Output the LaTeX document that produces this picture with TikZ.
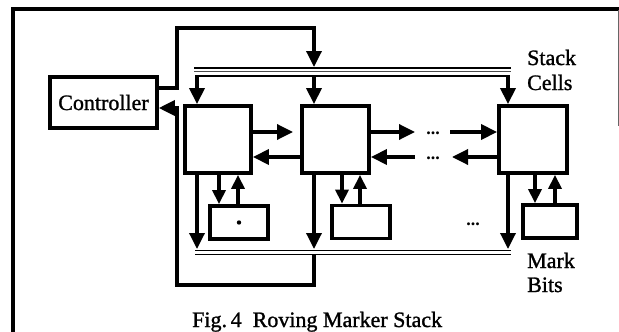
\documentclass[tikz,border=0pt]{standalone}
\usepackage{fontspec}
\setmainfont{Liberation Serif}
\newfontfamily\scanfont{Liberation Serif}[FakeBold=1.2]
\usetikzlibrary{arrows.meta}
\begin{document}
\begin{tikzpicture}[x=1pt,y=-1pt,
  wire/.style={line width=3.4pt},
  arr/.style={wire,-{Triangle[length=16pt,width=15pt]}},
  sarr/.style={wire,-{Triangle[length=14pt,width=13pt]}},
  boxn/.style={draw,line width=3.8pt,inner sep=0pt,fill=white},
  cellbox/.style={boxn,minimum width=66pt,minimum height=67pt},
  markbox/.style={boxn,minimum width=58pt,minimum height=33pt},
  lbl/.style={font=\scanfont\fontsize{22}{25}\selectfont,inner sep=0pt},
  dotsn/.style={font=\fontsize{18}{18}\selectfont\bfseries,inner sep=0pt,anchor=base}
]
\useasboundingbox (0,0) rectangle (619,332);
% frame
\draw[line width=3.4pt] (13,340) -- (13,9) -- (625,9);
\draw[line width=0.7pt,black!60] (618,10) -- (618,126);

% nodes
\node[boxn,minimum width=107pt,minimum height=51pt,lbl,draw,line width=3.6pt] (ctrl) at (103.5,102.5) {\raisebox{-2pt}{Controller}};
\node[cellbox] (c1) at (218,139.5) {};
\node[cellbox,minimum width=67pt] (c2) at (335.5,139.5) {};
\node[cellbox,minimum width=68pt] (c3) at (533,139.5) {};
\node[markbox] (m1) at (239,222.5) {};
\node[markbox] (m2) at (361,222) {};
\node[markbox,minimum width=54pt] (m3) at (550,221.5) {};
\fill (m1.center) circle (2.2pt);

% coordinates
\coordinate (xa) at (197,0);
\coordinate (xb) at (314,0);
\coordinate (xc) at (508,0);
\coordinate (tb) at (0,75);
\coordinate (bb) at (0,249);
\coordinate (bbot) at (0,254);
\coordinate (y88) at (0,88);
\coordinate (y108) at (0,108);
\coordinate (w1) at (177,28);
\coordinate (w2) at (314,28);
\coordinate (tbt) at (314,67);
\coordinate (r1) at (314,285);
\coordinate (r2) at (177,285);
\coordinate (hr) at (0,132);
\coordinate (hl) at (0,157);
\coordinate (e1) at (293,132);
\coordinate (e2) at (415,132);
\coordinate (s3) at (450,132);
\coordinate (s4) at (415,157);
\coordinate (e4) at (452,157);
\coordinate (md1) at (219,0);
\coordinate (mu1) at (238,0);
\coordinate (md2) at (342,0);
\coordinate (mu2) at (360,0);
\coordinate (md3) at (535,0);
\coordinate (mu3) at (555,0);

% top bus
\draw[line width=1.8pt] (194,68) -- (511,68);
\draw[line width=0.8pt,black!70] (194,71.5) -- (511,71.5);
\draw[line width=2pt] (195.3,75.5) -- (509.7,75.5);
% bottom bus
\draw[line width=1.8pt] (195,250.5) -- (511,250.5);
\draw[line width=1.6pt] (195,254.5) -- (511,254.5);

% controller wires
\draw[arr] (ctrl.east |- y88) -| (w1) -- (w2) -- (tbt);
\draw[arr] (xb |- bbot) -- (r1) -- (r2) |- (ctrl.east |- y108);

% drops from top bus
\draw[arr] (xa |- tb) -- (xa |- c1.north);
\draw[arr] (xb |- tb) -- (xb |- c2.north);
\draw[arr] (xc |- tb) -- (xc |- c3.north);

% cells to bottom bus
\draw[arr] (c1.south -| xa) -- (xa |- bb);
\draw[arr] (c2.south -| xb) -- (xb |- bb);
\draw[arr] (c3.south -| xc) -- (xc |- bb);

% cells <-> mark bits
\draw[sarr] (c1.south -| md1) -- (m1.north -| md1);
\draw[sarr] (m1.north -| mu1) -- (c1.south -| mu1);
\draw[sarr] (c2.south -| md2) -- (m2.north -| md2);
\draw[sarr] (m2.north -| mu2) -- (c2.south -| mu2);
\draw[sarr] (c3.south -| md3) -- (m3.north -| md3);
\draw[sarr] (m3.north -| mu3) -- (c3.south -| mu3);

% horizontal links
\draw[arr] (c1.east |- hr) -- (e1);
\draw[arr] (c2.west |- hl) -- (c1.east |- hl);
\draw[arr] (c2.east |- hr) -- (e2);
\draw[arr] (s3) -- (c3.west |- hr);
\draw[arr] (s4) -- (c2.east |- hl);
\draw[arr] (c3.west |- hl) -- (e4);
\node[dotsn] (dt1) at (433,134) {...};
\node[dotsn] (dt2) at (433,159) {...};
\node[dotsn] (dt3) at (473,225) {...};

% labels
\node[lbl,anchor=base west] (stk1) at (527,65) {Stack};
\node[lbl,anchor=base west] (stk2) at (527,90) {Cells};
\node[lbl,anchor=base west] (mk1) at (527,268) {Mark};
\node[lbl,anchor=base west] (mk2) at (527,292) {Bits};
\node[lbl,anchor=base west] (cap) at (192,327) {Fig.\,4\ \ Roving Marker Stack};
\end{tikzpicture}
\end{document}
